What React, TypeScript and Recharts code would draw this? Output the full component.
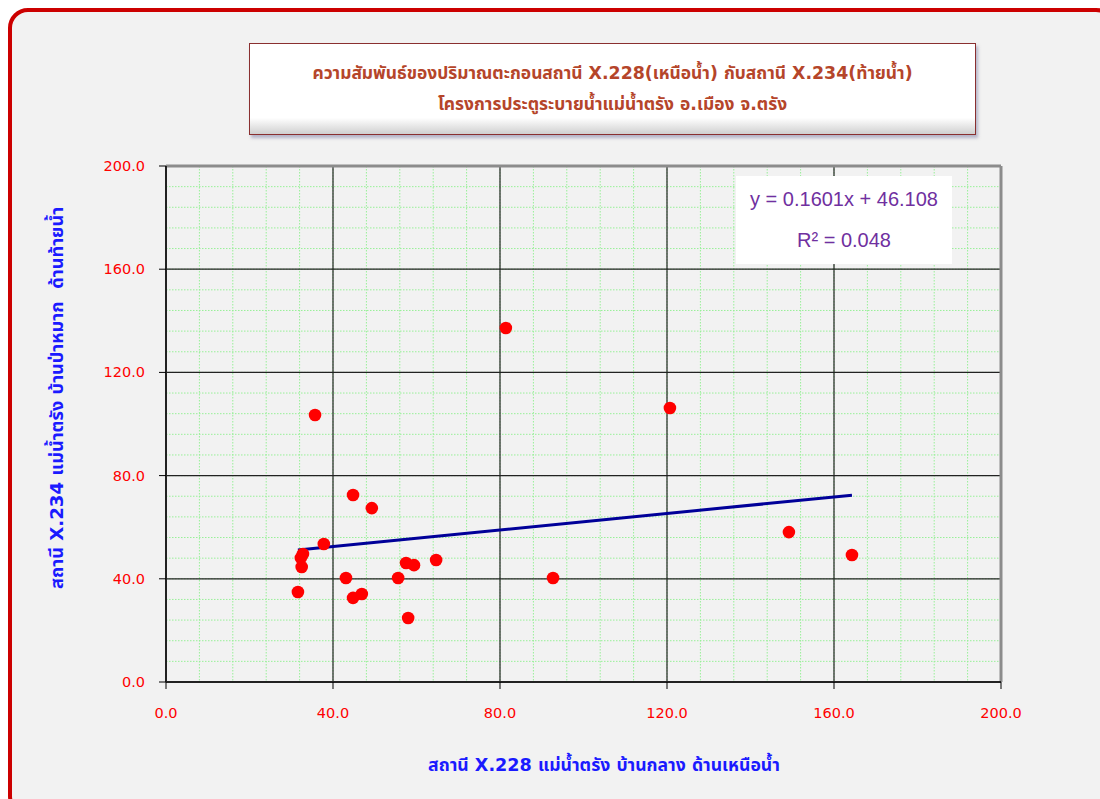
import { CartesianGrid, ReferenceLine, Scatter, ScatterChart, XAxis, YAxis } from "recharts";

// X.228 (upstream) vs X.234 (downstream) sediment
const upstream = [31.6, 32.3, 32.8, 32.5, 35.7, 37.8, 43.1, 44.8, 44.8, 46.9, 49.3, 55.6, 57.5, 58.0, 59.4, 64.7, 81.4, 92.7, 120.7, 149.2, 164.3];
const downstream = [34.9, 48.1, 49.6, 44.6, 103.5, 53.5, 40.3, 32.6, 72.5, 34.1, 67.4, 40.3, 46.1, 24.8, 45.3, 47.3, 137.2, 40.3, 106.2, 58.1, 49.2];

const slope = 0.1601;
const intercept = 46.108;
const r2 = 0.048;

const gridTicks = [0, 8, 16, 24, 32, 40, 48, 56, 64, 72, 80, 88, 96, 104, 112, 120, 128, 136, 144, 152, 160, 168, 176, 184, 192, 200];
const majorTicks = [0, 40, 80, 120, 160, 200];
const innerMajor = [40, 80, 120, 160];

const titleLines = [
  "ความสัมพันธ์ของปริมาณตะกอนสถานี X.228(เหนือน้ำ) กับสถานี X.234(ท้ายน้ำ)",
  "โครงการประตูระบายน้ำแม่น้ำตรัง อ.เมือง จ.ตรัง",
];
const xTitle = "สถานี X.228 แม่น้ำตรัง บ้านกลาง ด้านเหนือน้ำ";
const yTitle = "สถานี X.234 แม่น้ำตรัง บ้านป่าหมาก  ด้านท้ายน้ำ";

const points = upstream.map((x, i) => ({ x, y: downstream[i] }));
const xMin = Math.min(...upstream);
const xMax = Math.max(...upstream);
const trend = [xMin, xMax].map((x) => ({ x, y: slope * x + intercept }));

const FONT = "Tahoma, 'DejaVu Sans', 'Noto Sans Thai', sans-serif";

const XTick = (props: any) => {
  const { x, y, payload } = props;
  if (!majorTicks.includes(payload.value)) return null;
  return (
    <g>
      <line x1={x} y1={y} x2={x} y2={y + 7} stroke="#000" />
      <text x={x} y={y + 36} textAnchor="middle" fill="#ff0000" fontSize={14.5} fontFamily={FONT}>
        {payload.value.toFixed(1)}
      </text>
    </g>
  );
};

const YTick = (props: any) => {
  const { x, y, payload } = props;
  if (!majorTicks.includes(payload.value)) return null;
  return (
    <g>
      <line x1={x - 7} y1={y} x2={x} y2={y} stroke="#000" />
      <text x={x - 21} y={y + 5} textAnchor="end" fill="#ff0000" fontSize={14.5} fontFamily={FONT}>
        {payload.value.toFixed(1)}
      </text>
    </g>
  );
};

export default function App() {
  return (
    <div style={{ position: "relative", width: 1100, height: 799, overflow: "hidden", background: "#fff", fontFamily: FONT }}>
      <style>{`body{margin:0;overflow:hidden}`}</style>
      <div
        style={{
          position: "absolute",
          left: 8,
          top: 8,
          width: 1100,
          height: 800,
          border: "4px solid #cc0000",
          borderRadius: 20,
          background: "#f2f2f2",
        }}
      />
      <div
        style={{
          position: "absolute",
          left: 249,
          top: 43,
          width: 725,
          height: 90,
          border: "1px solid #8a3030",
          background: "linear-gradient(#ffffff 0%, #ffffff 82%, #d0d0d0 100%)",
          boxShadow: "2px 3px 3px rgba(120,120,160,0.5)",
          display: "flex",
          flexDirection: "column",
          alignItems: "center",
          justifyContent: "center",
          color: "#b5452a",
          fontWeight: "bold",
          fontSize: 17.4,
          lineHeight: "31px",
          whiteSpace: "nowrap",
        }}
      >
        {titleLines.map((t) => (
          <div key={t}>{t}</div>
        ))}
      </div>
      <div style={{ position: "absolute", left: 0, top: 0 }}>
        <ScatterChart width={1100} height={799} margin={{ top: 166, right: 99, bottom: 77, left: 66 }}>
          <CartesianGrid stroke="#98f098" strokeDasharray="1.5 1.5" horizontal vertical />
          <XAxis
            type="number"
            dataKey="x"
            domain={[0, 200]}
            ticks={gridTicks}
            interval={0}
            height={40}
            tickSize={0}
            tickMargin={0}
            tickLine={false}
            tick={<XTick />}
            axisLine={false}
          />
          <YAxis
            type="number"
            dataKey="y"
            domain={[0, 200]}
            ticks={gridTicks}
            interval={0}
            width={100}
            tickSize={0}
            tickMargin={0}
            tickLine={false}
            tick={<YTick />}
            axisLine={false}
          />
          {innerMajor.map((v) => (
            <ReferenceLine key={`vx${v}`} x={v} stroke="#222" strokeWidth={1.2} />
          ))}
          {innerMajor.map((v) => (
            <ReferenceLine key={`hy${v}`} y={v} stroke="#222" strokeWidth={1.2} />
          ))}
          <ReferenceLine y={200} stroke="#8c8c8c" strokeWidth={3} />
          <ReferenceLine x={200} stroke="#8c8c8c" strokeWidth={3} />
          <ReferenceLine y={0} stroke="#222" strokeWidth={2} />
          <ReferenceLine x={0} stroke="#222" strokeWidth={2} />
          <Scatter
            data={trend}
            line={{ stroke: "#000099", strokeWidth: 3 }}
            shape={() => null}
            isAnimationActive={false}
          />
          <Scatter
            data={points}
            fill="#ff0000"
            shape={(p: any) => <circle cx={p.cx} cy={p.cy} r={6.3} fill="#ff0000" />}
            isAnimationActive={false}
          />
        </ScatterChart>
      </div>
      <div
        style={{
          position: "absolute",
          left: 736,
          top: 176,
          width: 216,
          height: 88,
          background: "#ffffff",
          color: "#7030a0",
          fontSize: 20,
          fontFamily: "'Liberation Sans', Arial, sans-serif",
          textAlign: "center",
          lineHeight: "41px",
          paddingTop: 3,
          boxSizing: "border-box",
          whiteSpace: "nowrap",
        }}
      >
        <div>{`y = ${slope}x + ${intercept}`}</div>
        <div>{`R² = ${r2.toFixed(3)}`}</div>
      </div>
      <div
        style={{
          position: "absolute",
          left: 0,
          width: 1208,
          top: 752,
          textAlign: "center",
          color: "#1a1aff",
          fontWeight: "bold",
          fontSize: 17.6,
          whiteSpace: "nowrap",
        }}
      >
        {xTitle}
      </div>
      <div style={{ position: "absolute", left: 57, top: 398, width: 0, height: 0 }}>
        <div
          style={{
            position: "absolute",
            left: 0,
            top: 0,
            transform: "translate(-50%, -50%) rotate(-90deg)",
            whiteSpace: "pre",
            color: "#1a1aff",
            fontWeight: "bold",
            fontSize: 18.2,
          }}
        >
          {yTitle}
        </div>
      </div>
    </div>
  );
}
